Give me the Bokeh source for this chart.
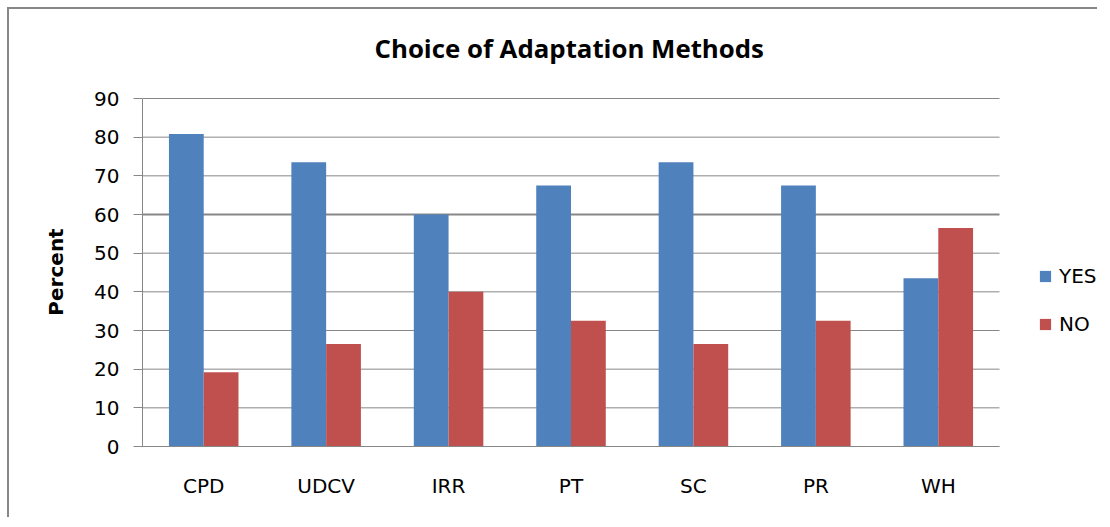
from bokeh.plotting import figure
from bokeh.models import ColumnDataSource, Range1d, Legend, LegendItem, FixedTicker
from bokeh.embed import file_html
from bokeh.resources import INLINE

categories = ["CPD", "UDCV", "IRR", "PT", "SC", "PR", "WH"]
yes_values = [80.8, 73.5, 60.0, 67.5, 73.5, 67.5, 43.5]
no_values = [19.2, 26.5, 40.0, 32.5, 26.5, 32.5, 56.5]
series_names = ["YES", "NO"]
y_ticks = [0, 10, 20, 30, 40, 50, 60, 70, 80, 90]

BLUE = "#4F81BD"
RED = "#C0504D"
GRID = "#878787"

n = len(categories)
centers = [i + 0.5 for i in range(n)]
bar_w = 0.284

source = ColumnDataSource(data=dict(
    x_yes=[c - bar_w / 2 for c in centers],
    x_no=[c + bar_w / 2 for c in centers],
    yes=yes_values, no=no_values,
))

W, H = 1090, 510
LEFT = 133
TOP = 74          # frame top (px from canvas top)
BOTTOM = 73
Y90 = 89          # pixel row where the top tick (90) sits
plot_px = 857.0   # pixels occupied by the categories
frame_w = W - LEFT
x_end = n * frame_w / plot_px
frame_bottom = H - BOTTOM
y_end = y_ticks[-1] * (frame_bottom - TOP) / (frame_bottom - Y90)

p = figure(
    width=W, height=H,
    x_range=Range1d(0, x_end),
    y_range=Range1d(0, y_end),
    output_backend="svg", toolbar_location=None,
    min_border_left=LEFT, min_border_right=0, min_border_top=TOP, min_border_bottom=BOTTOM,
    title="Choice of Adaptation Methods",
    styles={"margin-left": "7px", "margin-top": "7px",
            "border-left": "2px solid #878787", "border-top": "2px solid #878787"},
)
p.outline_line_color = None
p.background_fill_color = "white"
p.border_fill_color = "white"

p.title.align = "left"
p.title.offset = 232
p.title.text_font = "Open Sans"
p.title.text_font_style = "bold"
p.title.text_font_size = "25.8px"
p.title.text_color = "black"
p.title.standoff = 36

# horizontal gridlines limited to the category area
p.xgrid.grid_line_color = None
p.ygrid.grid_line_color = None
grid_widths = [2 if t == 60 else 1 for t in y_ticks]
p.segment(x0=[0] * len(y_ticks), x1=[n] * len(y_ticks), y0=y_ticks, y1=y_ticks,
          line_color=GRID, line_width=grid_widths)

r_yes = p.vbar(x="x_yes", top="yes", width=bar_w, source=source,
               fill_color=BLUE, line_color=None)
r_no = p.vbar(x="x_no", top="no", width=bar_w, source=source,
              fill_color=RED, line_color=None)

# y axis
p.yaxis.bounds = (y_ticks[0], y_ticks[-1])
p.yaxis.ticker = FixedTicker(ticks=y_ticks)
p.yaxis.axis_line_color = GRID
p.yaxis.major_tick_line_color = GRID
p.yaxis.major_tick_out = 9
p.yaxis.major_tick_in = 0
p.yaxis.minor_tick_line_color = None
p.yaxis.major_label_text_font = "DejaVu Sans"
p.yaxis.major_label_text_font_size = "20px"
p.yaxis.major_label_text_color = "black"
p.yaxis.major_label_standoff = 14
p.yaxis.axis_label = "Percent\u00a0\u00a0"
p.yaxis.axis_label_text_font = "DejaVu Sans"
p.yaxis.axis_label_text_font_style = "bold"
p.yaxis.axis_label_text_font_size = "20px"
p.yaxis.axis_label_text_color = "black"
p.yaxis.axis_label_standoff = 23

# x axis
p.xaxis.bounds = (0, n)
p.xaxis.ticker = FixedTicker(ticks=centers)
p.xaxis.major_label_overrides = {c: lab for c, lab in zip(centers, categories)}
p.xaxis.axis_line_color = GRID
p.xaxis.major_tick_line_color = None
p.xaxis.minor_tick_line_color = None
p.xaxis.major_label_text_font = "DejaVu Sans"
p.xaxis.major_label_text_font_size = "20px"
p.xaxis.major_label_text_color = "black"
p.xaxis.major_label_standoff = 21

legend = Legend(
    items=[LegendItem(label=series_names[0], renderers=[r_yes]),
           LegendItem(label=series_names[1], renderers=[r_no])],
    location=(896, 110),
    orientation="vertical",
    padding=0, margin=0, spacing=24,
    glyph_width=14, glyph_height=14, label_height=14,
    label_standoff=7,
    label_text_font="DejaVu Sans", label_text_font_size="20px", label_text_color="black",
    border_line_color=None, background_fill_alpha=0,
)
p.add_layout(legend)

open("out.html", "w").write(file_html(p, INLINE))
